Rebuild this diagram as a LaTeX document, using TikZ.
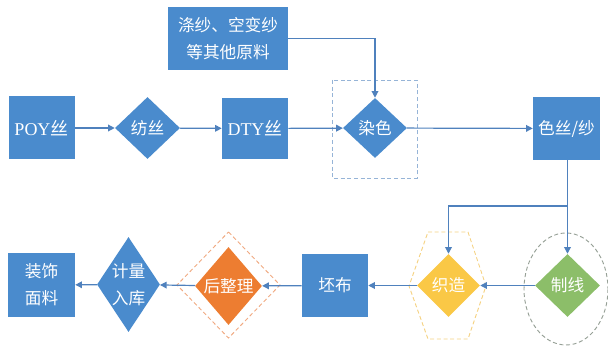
\documentclass[tikz,border=0pt]{standalone}
\usepackage{fontspec}
\setmainfont{Liberation Serif}
\newfontfamily\cjk{Noto Sans CJK SC}
\usetikzlibrary{shapes.geometric,arrows.meta}
\definecolor{bfill}{RGB}{74,139,205}
\definecolor{ofill}{RGB}{237,125,49}
\definecolor{yfill}{RGB}{250,200,70}
\definecolor{gfill}{RGB}{140,190,105}
\definecolor{lcol}{RGB}{79,129,189}
\definecolor{dblue}{RGB}{150,180,215}
\definecolor{dyel}{RGB}{245,210,130}
\definecolor{dgreen}{RGB}{150,160,150}
\definecolor{dora}{RGB}{240,170,130}
\tikzset{
  sz/.style 2 args={minimum width=#1*0.75pt, minimum height=#2*0.75pt},
  txt/.style={text=white, font=\cjk\fontsize{12.5}{20}\selectfont, align=center},
  boxnode/.style={rectangle, fill=bfill, inner sep=0pt, txt},
  dia/.style={diamond, inner sep=0pt, fill=#1},
  dlabel/.style={label={[txt]center:{#1}}},
  conn/.style={draw=lcol, line width=0.9pt, -{Triangle[length=5pt,width=5pt]}},
  dashbox/.style={dashed, line width=0.7pt, dash pattern=on 3pt off 2pt},
}
\begin{document}
\begin{tikzpicture}[x=0.75pt,y=-0.75pt]
\useasboundingbox (0,0) rectangle (608,349);
% decorations
\draw[dashbox, draw=dblue] (332,80) rectangle (417,178);
\draw[dashbox, draw=dyel] (428,232) -- (468,232) -- (486,286) -- (468,339) -- (428,339) -- (409,286) -- cycle;
\draw[dashbox, draw=dgreen] (566,289) ellipse [x radius=42, y radius=56];
\draw[dashbox, draw=dora] (228.5,232) -- (280,285) -- (228.5,338) -- (177,285) -- cycle;
% nodes
\node[boxnode, sz={66}{63}] (poy) at (41.5,128) {\rmfamily\fontsize{13.5}{16}\selectfont POY{\cjk 丝}};
\node[dia=bfill, sz={65}{62}, dlabel={纺丝}] (spin) at (147.5,128) {};
\node[boxnode, sz={66}{61}] (dty) at (255,128.5) {\rmfamily\fontsize{13.5}{16}\selectfont DTY{\cjk 丝}};
\node[boxnode, sz={120}{63}] (src) at (228,38.5) {涤纱、空变纱\\等其他原料};
\node[dia=bfill, sz={64}{60}, dlabel={染色}] (dye) at (375,128) {};
\node[boxnode, sz={67}{63}] (color) at (566.5,128.5) {色丝/纱};
\node[dia=gfill, sz={65}{63}, dlabel={制线}] (zx) at (567.5,285.5) {};
\node[dia=yfill, sz={63}{63}, dlabel={织造}] (zz) at (448.5,285.5) {};
\node[boxnode, sz={66}{63}] (pb) at (335,285.5) {坯布};
\node[dia=ofill, sz={67}{78}, dlabel={后整理}] (hz) at (228.5,286) {};
\node[dia=bfill, sz={63}{95}, dlabel={计量\\入库}] (jl) at (128.5,284.5) {};
\node[boxnode, sz={67}{64}] (zs) at (41.5,285) {装饰\\面料};
\coordinate (br) at (567,206);
% connectors
\draw[conn] (poy) -- (spin);
\draw[conn] (spin) -- (dty);
\draw[conn] (dty) -- (dye);
\draw[conn] (dye) -- (color);
\draw[conn] (src.east) -| (dye.north);
\draw[conn] (color.south -| zx.north) -- (zx.north);
\draw[conn] (br) -| (zz.north);
\draw[conn] (zx) -- (zz);
\draw[conn] (zz) -- (pb);
\draw[conn] (pb) -- (hz);
\draw[conn] (hz) -- (jl);
\draw[conn] (jl) -- (zs);
\end{tikzpicture}
\end{document}
